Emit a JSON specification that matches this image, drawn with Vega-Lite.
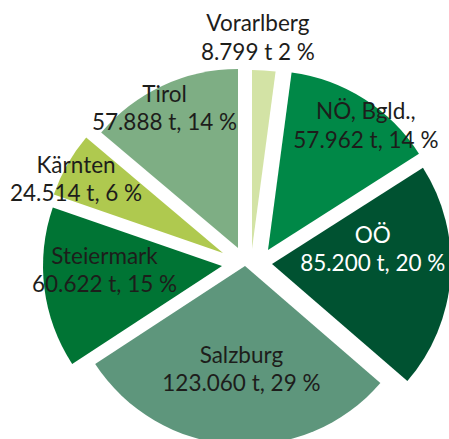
{
  "$schema": "https://vega.github.io/schema/vega-lite/v6.json",
  "width": 358,
  "height": 358,
  "autosize": "none",
  "padding": {"left": 67, "top": 78, "right": 24, "bottom": 3},
  "background": "white",
  "config": {"view": {"stroke": null}},
  "data": {
    "values": [
      {"i": 1, "region": "Vorarlberg", "tonnes": 8799, "amount": "8.799 t 2 %"},
      {"i": 2, "region": "NÖ, Bgld.,", "tonnes": 57962, "amount": "57.962 t, 14 %"},
      {"i": 3, "region": "OÖ", "tonnes": 85200, "amount": "85.200 t, 20 %"},
      {"i": 4, "region": "Salzburg", "tonnes": 123060, "amount": "123.060 t, 29 %"},
      {"i": 5, "region": "Steiermark", "tonnes": 60622, "amount": "60.622 t, 15 %"},
      {"i": 6, "region": "Kärnten", "tonnes": 24514, "amount": "24.514 t, 6 %"},
      {"i": 7, "region": "Tirol", "tonnes": 57888, "amount": "57.888 t, 14 %"}
    ]
  },
  "transform": [
    {"calculate": "datum.region + '\\n' + datum.amount", "as": "label"}
  ],
  "encoding": {
    "theta": {"field": "tonnes", "type": "quantitative", "stack": true},
    "order": {"field": "i", "type": "quantitative"}
  },
  "layer": [
    {
      "mark": {
        "type": "arc",
        "xOffset": {"expr": "[6,22,26,-1,-24,-23,-8][datum.i-1]"},
        "yOffset": {"expr": "[-8,-7,7,9,9,-4,-9][datum.i-1]"}
      },
      "encoding": {
        "color": {
          "field": "region",
          "type": "nominal",
          "legend": null,
          "sort": null,
          "scale": {
            "domain": ["Vorarlberg", "NÖ, Bgld.,", "OÖ", "Salzburg", "Steiermark", "Kärnten", "Tirol"],
            "range": ["#d3e3a5", "#008847", "#005231", "#5e967c", "#007434", "#afc94f", "#7eae84"]
          }
        }
      }
    },
    {
      "mark": {
        "type": "text",
        "lineBreak": "\n",
        "font": "Lato",
        "fontSize": 22.5,
        "fontWeight": 400,
        "lineHeight": 28.5,
        "align": "center",
        "baseline": "middle",
        "dy": -13,
        "radius": {"expr": "[220,178,127,112,142,187,170][datum.i-1]"},
        "thetaOffset": {"expr": "[-0.012,0.171,-0.136,-0.026,0.035,-0.086,-0.065][datum.i-1]"}
      },
      "encoding": {
        "text": {"field": "label"},
        "color": {
          "condition": {"test": "datum.region === 'OÖ'", "value": "#ffffff"},
          "value": "#1d1d1b"
        }
      }
    }
  ]
}
